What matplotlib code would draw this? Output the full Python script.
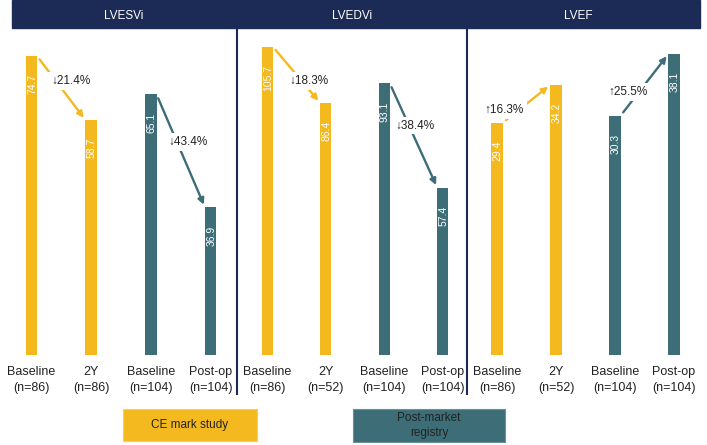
import matplotlib
matplotlib.use("Agg")
import matplotlib.pyplot as plt
from matplotlib.patches import Rectangle
from matplotlib.lines import Line2D

plt.rcParams['font.family'] = ['Liberation Sans', 'DejaVu Sans']

# ---- data ----
panels = ["LVESVi", "LVEDVi", "LVEF"]
tick_labels = [
    ["Baseline\n(n=86)", "2Y\n(n=86)", "Baseline\n(n=104)", "Post-op\n(n=104)"],
    ["Baseline\n(n=86)", "2Y\n(n=52)", "Baseline\n(n=104)", "Post-op\n(n=104)"],
    ["Baseline\n(n=86)", "2Y\n(n=52)", "Baseline\n(n=104)", "Post-op\n(n=104)"],
]
values = [
    [74.7, 58.7, 65.1, 36.9],
    [105.7, 86.4, 93.1, 57.4],
    [29.4, 34.2, 30.3, 38.1],
]
changes = [
    ["↓21.4%", "↓43.4%"],
    ["↓18.3%", "↓38.4%"],
    ["↑16.3%", "↑25.5%"],
]
groups = ["CE mark study", "Post-market\nregistry"]

# ---- style / layout ----
GOLD = "#F3B91F"
TEAL = "#3D6E78"
NAVY = "#1C2A56"
bar_colors = [GOLD, GOLD, TEAL, TEAL]
ymax = [81.7, 112.1, 41.4]
W, H = 707, 445
ax_lefts = [1.5, 238.0, 467.5]     # px
ax_widths = [239.0, 234.0, 236.0]   # px (4 units)
label_offsets = [
    [(7, 5), (5, 6.5)],
    [(8.6, -4.3), (0.7, 7.2)],
    [(-16, -4.3), (-12, -5)],
]
bw = 0.19

fig = plt.figure(figsize=(W / 100, H / 100), dpi=100)

y_bot = 355
y_top = 28
for p in range(3):
    ax = fig.add_axes([ax_lefts[p] / W, (H - y_bot) / H, ax_widths[p] / W, (y_bot - y_top) / H])
    ax.set_xlim(-0.5, 3.5)
    ax.set_ylim(0, ymax[p])
    ax.patch.set_alpha(0)
    for s in ax.spines.values():
        s.set_visible(False)
    ax.set_yticks([])
    xs = list(range(4))
    ax.bar(xs, values[p], width=bw, color=bar_colors, zorder=2)
    for x, v in zip(xs, values[p]):
        ax.annotate(f"{v}", xy=(x, v), xytext=(0.5, -13), textcoords="offset points",
                    rotation=90, ha="center", va="top", color="white", fontsize=7.5, zorder=3)
    ax.set_xticks(xs)
    ax.set_xticklabels(tick_labels[p], fontsize=9, linespacing=1.45, color="#222222")
    ax.tick_params(axis="x", length=0, pad=8)
    # arrows
    for k, i in enumerate([0, 2]):
        col = bar_colors[i]
        v1, v2 = values[p][i], values[p][i + 1]
        start = (i + bw / 2, v1)
        end = (i + 1 - bw / 2, v2)
        ax.annotate("", xy=end, xytext=start, xycoords="data",
                    arrowprops=dict(arrowstyle="-|>", color=col, lw=1.7,
                                    mutation_scale=9, shrinkA=3, shrinkB=2),
                    zorder=4)
        mx = (start[0] + end[0]) / 2
        my = (start[1] + end[1]) / 2
        ax.annotate(changes[p][k], xy=(mx, my), xytext=label_offsets[p][k],
                    textcoords="offset points", ha="center", va="center",
                    fontsize=8.5, color="#222222", zorder=5,
                    bbox=dict(boxstyle="square,pad=0.25", fc="white", ec="none"))

# header band
fig.patches.append(Rectangle((12 / W, (H - 28) / H), 688 / W, 28 / H,
                             transform=fig.transFigure, color=NAVY, zorder=0))
title_x = [124, 352, 578]
for t, x in zip(panels, title_x):
    fig.text(x / W, 1 - 16 / H, t, ha="center", va="center", color="white", fontsize=8.5)

# vertical dividers
for x in [237, 467]:
    fig.lines.append(Line2D([x / W, x / W], [(H - 28) / H, (H - 394) / H],
                            transform=fig.transFigure, color=NAVY, lw=1.5))

# legend boxes
fig.patches.append(Rectangle((123 / W, (H - 441) / H), 134 / W, 32 / H,
                             transform=fig.transFigure, fc=GOLD, ec="#F7CE5A", lw=0.8))
fig.text(190 / W, 1 - 425 / H, groups[0], ha="center", va="center", fontsize=8.5, color="#222222")
fig.patches.append(Rectangle((353 / W, (H - 442) / H), 152 / W, 33 / H,
                             transform=fig.transFigure, fc=TEAL, ec="#6A9098", lw=0.8))
fig.text(429 / W, 1 - 425.5 / H, groups[1], ha="center", va="center", fontsize=8.5,
         color="#222222", linespacing=1.3)

fig.savefig("out.png", dpi=100)
